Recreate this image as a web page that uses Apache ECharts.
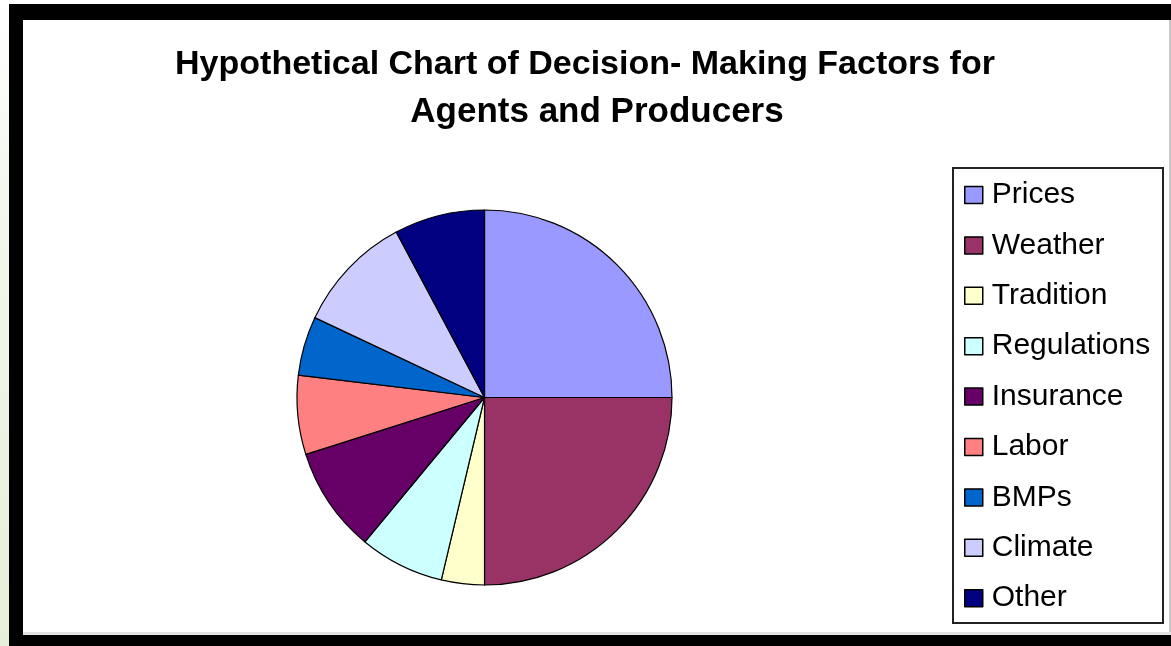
<!DOCTYPE html>
<html>
<head>
<meta charset="utf-8">
<script src="https://cdn.jsdelivr.net/npm/echarts@6/dist/echarts.min.js"></script>
<style>
html,body{margin:0;padding:0;background:#fff;}
#chart{width:1171px;height:646px;}
</style>
</head>
<body>
<div id="chart"></div>
<script>
const titleLine1 = 'Hypothetical Chart of Decision- Making Factors for';
const titleLine2 = 'Agents and Producers';
const categories = ['Prices','Weather','Tradition','Regulations','Insurance','Labor','BMPs','Climate','Other'];
const values = [25, 25, 3.7, 7.3, 9.1, 6.8, 5.1, 10.2, 7.8];
const colors = ['#9999FF','#993366','#FFFFCC','#CCFFFF','#660066','#FF8080','#0066CC','#CCCCFF','#000080'];

const chart = echarts.init(document.getElementById('chart'), null, {renderer:'canvas'});
const FONT = '"Liberation Sans", Arial, sans-serif';
chart.setOption({
  animation:false,
  backgroundColor:'#ffffff',
  color: colors,
  graphic:[
    {type:'rect', shape:{x:0,y:0,width:9,height:646}, silent:true, z:-10,
     style:{fill:new echarts.graphic.LinearGradient(0,0,0,1,[{offset:0,color:'#ffffff'},{offset:0.3,color:'#f3f7ee'},{offset:1,color:'#e6efd9'}])}},
    {type:'rect', shape:{x:9,y:4,width:1162,height:642}, silent:true, z:-9, style:{fill:'#000000'}},
    {type:'rect', shape:{x:23,y:20,width:1148,height:615}, silent:true, z:-8, style:{fill:'#ffffff'}},
    {type:'rect', shape:{x:1169,y:20,width:2,height:615}, silent:true, z:-7, style:{fill:'#c8c8c8'}},
    {type:'rect', shape:{x:23,y:632,width:1148,height:3}, silent:true, z:-7, style:{fill:'#e2e2e2'}},
    {type:'rect', shape:{x:953,y:168,width:210,height:455}, silent:true, z:-6,
     style:{fill:'#ffffff', stroke:'#222222', lineWidth:2}}
  ],
  title:[{
    text: titleLine1,
    left: 585, top: 41, textAlign:'center', padding:0,
    textStyle:{fontFamily:FONT, fontSize:34, fontWeight:'bold', color:'#000', lineHeight:47}
  },{
    text: titleLine2,
    left: 597, top: 89, textAlign:'center', padding:0,
    textStyle:{fontFamily:FONT, fontSize:35, fontWeight:'bold', color:'#000', lineHeight:47}
  }],
  legend:{
    orient:'vertical',
    left: 953, top: 168,
    padding:[12,10,10,11],
    itemWidth:18, itemHeight:17,
    itemGap:20.4,
    icon:'rect',
    itemStyle:{borderColor:'#000', borderWidth:1.5},
    textStyle:{fontFamily:FONT, fontSize:30, color:'#000', lineHeight:30, padding:[0,0,0,4]},
    data: categories
  },
  series:[{
    type:'pie',
    center:[484.5, 397.5],
    radius:[0, 187.5],
    startAngle:90,
    clockwise:true,
    label:{show:false},
    labelLine:{show:false},
    emphasis:{disabled:true},
    itemStyle:{borderColor:'#000', borderWidth:1.2},
    data: categories.map((c,i)=>({name:c, value:values[i]}))
  }]
});
</script>
</body>
</html>
